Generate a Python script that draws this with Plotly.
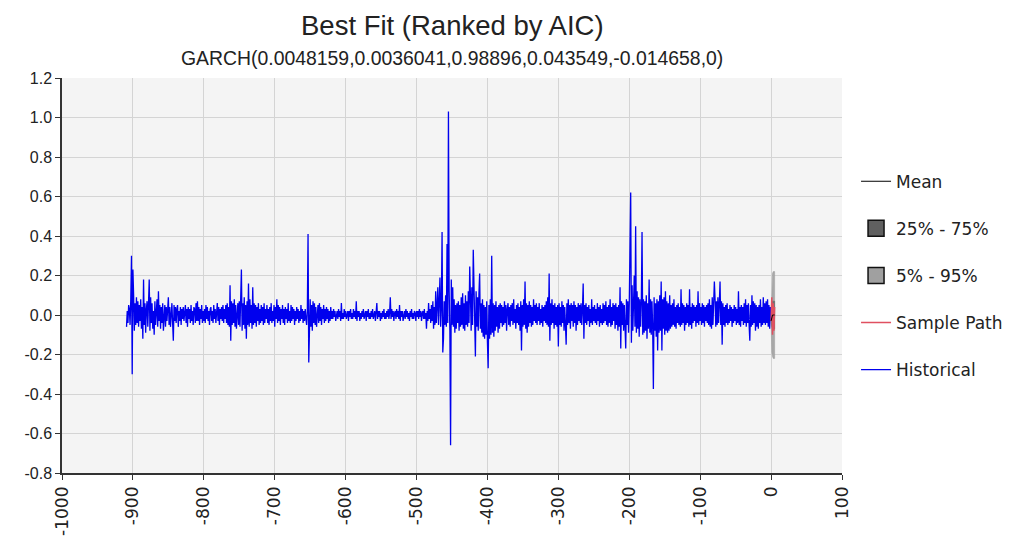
import plotly.graph_objects as go

TITLE = "Best Fit (Ranked by AIC)"
SUBTITLE = "GARCH(0.0048159,0.0036041,0.98896,0.043549,-0.014658,0)"

# Historical series, one value per period starting at HIST_START
HIST_START = -909
hist_values = [
    -0.06, 0.02, -0.04, 0.05, 0.03, -0.05, 0.08, 0.30, -0.30, 0.23,
    0.10, -0.08, 0.06, -0.05, 0.09, -0.04, 0.07, -0.06, 0.05, -0.03,
    0.08, -0.07, 0.04, -0.12, 0.18, -0.05, 0.06, -0.09, 0.03, 0.07,
    -0.06, 0.05, 0.18, -0.08, 0.09, -0.04, 0.06, -0.07, 0.02, -0.10,
    0.07, -0.05, 0.04, 0.08, -0.06, 0.12, -0.03, 0.05, -0.07, 0.04,
    -0.04, 0.06, -0.08, 0.03, 0.05, -0.06, 0.04, -0.03, 0.07, 0.09,
    -0.05, 0.04, -0.06, 0.03, 0.06, -0.04, -0.13, 0.05, -0.03, 0.04,
    -0.04, 0.03, 0.05, -0.06, 0.02, -0.03, 0.04, -0.05, 0.03, -0.02,
    0.04, -0.03, 0.02, 0.05, -0.04, 0.03, -0.06, 0.04, -0.02, 0.03,
    -0.04, 0.05, -0.03, 0.02, -0.05, 0.04, 0.03, -0.04, 0.06, -0.03,
    0.07, -0.03, 0.04, -0.05, 0.03, -0.02, 0.05, -0.04, 0.02, -0.03,
    0.03, -0.04, 0.05, -0.02, 0.04, -0.03, 0.02, -0.05, 0.03, 0.04,
    -0.03, 0.02, -0.04, 0.05, -0.02, 0.03, -0.04, 0.02, 0.06, -0.03,
    0.04, -0.05, 0.03, -0.02, 0.04, -0.03, 0.05, -0.04, 0.03, -0.02,
    0.05, -0.04, 0.06, -0.05, 0.04, -0.06, 0.15, -0.13, 0.07, -0.05,
    0.06, -0.04, 0.08, -0.06, 0.05, -0.07, 0.04, 0.06, -0.05, 0.07,
    -0.06, 0.05, 0.23, -0.08, 0.06, -0.05, 0.09, -0.07, 0.05, -0.12,
    0.07, -0.05, 0.16, -0.06, 0.08, -0.04, 0.05, -0.07, 0.14, -0.05,
    0.06, -0.04, 0.05, -0.06, 0.04, -0.03, 0.06, -0.05, 0.03, -0.04,
    0.05, -0.03, 0.04, -0.05, 0.06, -0.04, 0.03, -0.02, 0.05, -0.04,
    0.03, -0.05, 0.04, -0.03, 0.06, -0.04, 0.02, -0.03, 0.05, -0.06,
    0.04, -0.02, 0.08, -0.04, 0.05, -0.03, 0.04, -0.05, 0.03, -0.02,
    0.05, -0.04, 0.03, -0.05, 0.04, -0.02, 0.03, -0.04, 0.06, -0.03,
    0.02, -0.04, 0.05, -0.03, 0.04, -0.02, 0.03, -0.05, 0.02, -0.03,
    0.04, -0.02, 0.03, -0.04, 0.02, -0.03, 0.05, -0.02, 0.03, -0.04,
    0.02, -0.03, 0.03, -0.02, -0.05, 0.03, 0.41, -0.24, -0.10, 0.08,
    -0.06, 0.05, -0.08, 0.07, -0.04, 0.06, -0.05, 0.04, -0.06, 0.03,
    0.05, -0.04, 0.06, -0.03, 0.04, -0.05, 0.03, -0.02, 0.05, -0.04,
    0.03, -0.03, 0.04, -0.02, 0.03, -0.04, 0.02, -0.03, 0.04, -0.02,
    0.02, -0.02, 0.03, -0.01, 0.02, -0.03, 0.01, 0.02, -0.02, 0.03,
    -0.01, 0.02, -0.03, 0.06, -0.02, 0.01, -0.02, 0.03, -0.01, 0.02,
    -0.02, 0.01, 0.02, -0.03, 0.02, -0.01, 0.03, -0.02, 0.01, -0.02,
    0.03, -0.01, 0.02, -0.02, 0.07, -0.03, 0.02, -0.01, 0.02, -0.03,
    0.01, -0.02, 0.02, -0.01, 0.03, -0.02, 0.01, 0.02, -0.03, 0.02,
    -0.01, 0.03, -0.02, 0.01, -0.02, 0.02, -0.01, 0.03, -0.02, 0.01,
    0.02, -0.03, 0.01, 0.06, -0.02, 0.02, -0.01, 0.02, -0.03, 0.01,
    -0.02, 0.02, -0.01, 0.03, -0.02, 0.01, -0.02, 0.02, -0.01, 0.03,
    -0.02, 0.01, 0.09, -0.02, 0.03, -0.01, 0.02, -0.03, 0.01, 0.02,
    -0.02, 0.03, -0.01, 0.02, -0.02, 0.05, -0.03, 0.02, -0.01, 0.02,
    -0.03, 0.01, 0.02, -0.02, 0.03, -0.01, 0.02, -0.02, 0.01, -0.03,
    0.02, -0.01, 0.03, -0.02, 0.01, -0.02, 0.02, 0.01, -0.03, 0.02,
    -0.01, 0.02, -0.02, 0.03, -0.01, 0.02, -0.03, 0.01, 0.02, -0.02,
    0.03, -0.02, 0.01, -0.07, 0.02, -0.03, 0.06, -0.02, 0.03, -0.04,
    0.05, -0.03, 0.07, -0.07, 0.04, -0.05, 0.12, -0.04, 0.06, 0.14,
    -0.05, 0.08, 0.19, -0.06, 0.04, 0.42, -0.19, -0.12, 0.07, -0.05,
    0.10, -0.06, 0.36, -0.04, 1.03, 0.12, -0.08, -0.66, 0.18, -0.05,
    0.14, -0.06, 0.08, -0.09, 0.05, -0.07, 0.06, -0.04, 0.07, -0.08,
    0.05, -0.06, 0.09, -0.05, 0.11, -0.07, 0.06, -0.08, 0.10, -0.05,
    0.07, -0.06, 0.12, -0.04, 0.245, 0.10, -0.08, 0.14, -0.05, 0.33,
    0.15, -0.10, -0.21, 0.12, -0.06, 0.09, -0.08, 0.11, 0.21, -0.07,
    0.06, -0.09, 0.08, -0.11, 0.05, -0.12, 0.04, -0.10, 0.07, -0.14,
    -0.27, 0.05, -0.12, 0.08, -0.10, 0.30, -0.09, 0.06, -0.11, 0.05,
    -0.08, 0.07, -0.06, 0.04, -0.09, 0.05, -0.07, 0.06, -0.04, 0.05,
    -0.06, 0.04, -0.05, 0.07, -0.04, 0.05, -0.08, 0.03, 0.06, -0.05,
    0.04, -0.06, 0.05, -0.03, 0.06, -0.05, 0.08, -0.04, 0.03, -0.07,
    0.05, -0.04, 0.06, -0.05, 0.04, -0.08, 0.07, -0.18, 0.05, -0.06,
    0.08, -0.05, 0.17, -0.07, 0.06, -0.09, 0.05, -0.06, 0.07, -0.04,
    0.05, -0.06, 0.04, -0.05, 0.08, -0.03, 0.05, -0.04, 0.06, -0.05,
    0.04, -0.03, 0.06, -0.05, 0.03, -0.04, 0.05, -0.06, 0.04, -0.03,
    0.05, -0.04, 0.07, -0.05, 0.09, -0.06, 0.21, -0.13, 0.06, -0.05,
    0.08, -0.04, 0.05, -0.07, 0.06, -0.05, 0.04, -0.06, 0.05, -0.16,
    0.06, -0.05, 0.04, -0.06, 0.07, -0.04, 0.05, -0.08, 0.04, -0.05,
    -0.15, 0.06, -0.05, 0.08, -0.04, 0.05, -0.07, 0.06, -0.03, 0.05,
    -0.06, 0.07, -0.04, 0.05, -0.08, 0.04, -0.05, 0.06, -0.03, 0.05,
    -0.04, 0.06, -0.05, 0.03, 0.16, -0.12, 0.05, -0.04, 0.06, -0.05,
    0.04, -0.03, 0.05, -0.06, 0.03, -0.04, 0.08, -0.05, 0.04, -0.03,
    0.05, -0.04, 0.03, -0.05, 0.06, -0.03, 0.04, -0.06, 0.05, -0.04,
    0.03, -0.05, 0.06, -0.04, 0.05, -0.03, 0.07, -0.05, 0.04, -0.06,
    0.05, -0.04, 0.08, -0.06, 0.04, -0.05, 0.06, -0.03, 0.05, -0.07,
    0.06, -0.05, 0.04, -0.08, 0.05, -0.06, 0.14, -0.17, 0.07, -0.05,
    0.06, -0.08, 0.05, -0.06, -0.17, 0.08, -0.05, 0.07, -0.09, 0.06,
    0.37, 0.62, -0.14, 0.15, -0.08, 0.10, 0.20, -0.06, 0.45, -0.09,
    0.12, -0.07, 0.09, -0.11, 0.08, -0.06, 0.07, 0.42, -0.10, 0.08,
    -0.09, 0.07, -0.08, 0.10, -0.12, 0.06, -0.07, 0.18, -0.09, 0.08,
    -0.10, 0.07, -0.06, -0.375, 0.09, -0.08, 0.06, -0.11, 0.08, -0.18,
    0.07, -0.09, 0.10, -0.08, 0.17, -0.18, 0.08, -0.07, 0.09, -0.10,
    0.12, -0.08, 0.07, -0.09, 0.06, -0.08, 0.10, -0.07, 0.05, -0.06,
    0.06, -0.05, 0.08, -0.06, 0.04, -0.07, 0.05, -0.04, 0.06, -0.05,
    0.04, -0.06, 0.13, -0.05, 0.06, -0.04, 0.05, -0.08, 0.04, -0.05,
    0.06, -0.04, 0.05, -0.06, 0.13, -0.05, 0.04, -0.07, 0.06, -0.04,
    0.05, -0.03, 0.04, -0.06, 0.05, -0.04, 0.12, -0.05, 0.06, -0.03,
    0.04, -0.05, 0.06, -0.04, 0.05, -0.06, 0.04, -0.03, 0.05, -0.04,
    0.06, -0.05, 0.08, -0.06, 0.05, -0.07, 0.09, -0.05, 0.06, 0.17,
    0.08, -0.06, 0.07, -0.05, 0.09, -0.04, 0.06, 0.17, -0.05, 0.07,
    -0.15, 0.06, -0.05, 0.04, -0.06, 0.05, -0.04, 0.06, -0.05, 0.03,
    -0.04, 0.05, -0.03, 0.04, -0.06, 0.03, -0.04, 0.05, -0.03, 0.04,
    -0.05, 0.03, -0.04, 0.12, -0.05, 0.04, -0.06, 0.05, -0.03, 0.04,
    -0.05, 0.06, -0.04, 0.08, -0.06, 0.05, -0.04, 0.06, -0.05, -0.13,
    0.05, -0.06, 0.10, -0.05, 0.07, -0.04, 0.06, -0.08, 0.05, -0.06,
    0.04, -0.07, 0.05, -0.04, 0.08, -0.06, 0.04, -0.05, 0.09, -0.04,
    0.06, -0.05, 0.07, -0.04, 0.08, -0.06, 0.05, -0.07, 0.04, -0.03,
]
hist_x = list(range(HIST_START, HIST_START + len(hist_values)))

# Forecast fan
fc_x = [0, 1, 2, 3, 4, 5]
fc_p95 = [-0.03, 0.19, 0.21, 0.22, 0.22, 0.22]
fc_p5 = [-0.03, -0.19, -0.21, -0.22, -0.22, -0.22]
fc_p75 = [-0.03, 0.06, 0.07, 0.07, 0.07, 0.07]
fc_p25 = [-0.03, -0.06, -0.07, -0.07, -0.07, -0.07]
fc_mean = [-0.03, 0.0, 0.0, 0.0, 0.0, 0.0]
sample_path = [-0.03, 0.09, -0.10, 0.06, -0.08, 0.04]

# Axes
X_RANGE = [-1000, 100]
Y_RANGE = [-0.8, 1.2]
x_tick_vals = [-1000, -900, -800, -700, -600, -500, -400, -300, -200, -100, 0, 100]
x_tick_text = ["-1000", "-900", "-800", "-700", "-600", "-500", "-400",
               "-300", "-200", "-100", "0", "100"]
y_tick_vals = [-0.8, -0.6, -0.4, -0.2, 0.0, 0.2, 0.4, 0.6, 0.8, 1.0, 1.2]
y_tick_text = ["-0.8", "-0.6", "-0.4", "-0.2", "0.0", "0.2", "0.4", "0.6",
               "0.8", "1.0", "1.2"]

# page body has an 8px margin; size figure so the plot sits where the reference has it
PAGE_OFFSET = 8
W, H = 1011 - PAGE_OFFSET, 537 - PAGE_OFFSET

fig = go.Figure()

fig.add_trace(go.Scatter(
    x=fc_x + fc_x[::-1], y=fc_p95 + fc_p5[::-1], fill="toself",
    fillcolor="#a8a8a8", line=dict(color="#9a9a9a", width=0.5),
    mode="lines", showlegend=False, hoverinfo="skip"))
fig.add_trace(go.Scatter(
    x=fc_x + fc_x[::-1], y=fc_p75 + fc_p25[::-1], fill="toself",
    fillcolor="#707070", line=dict(color="#606060", width=0.5),
    mode="lines", showlegend=False, hoverinfo="skip"))
fig.add_trace(go.Scatter(
    x=hist_x, y=hist_values, mode="lines", name="Historical",
    line=dict(color="#0000ee", width=1.3), legendgroup="g5", legendrank=5))
fig.add_trace(go.Scatter(
    x=fc_x, y=sample_path, mode="lines", name="Sample Path",
    line=dict(color="#e05060", width=1.5), legendgroup="g4", legendrank=4))
fig.add_trace(go.Scatter(
    x=fc_x, y=fc_mean, mode="lines", name="Mean",
    line=dict(color="#000000", width=1), legendgroup="g1", legendrank=1))
# legend swatches for the bands
fig.add_trace(go.Scatter(
    x=[None], y=[None], mode="markers", name="25% - 75%",
    marker=dict(symbol="square", size=20, color="#606060",
                line=dict(color="#111", width=1.5)),
    legendgroup="g2", legendrank=2))
fig.add_trace(go.Scatter(
    x=[None], y=[None], mode="markers", name="5% - 95%",
    marker=dict(symbol="square", size=20, color="#a0a0a0",
                line=dict(color="#111", width=1.5)),
    legendgroup="g3", legendrank=3))

fig.update_layout(
    width=W, height=H,
    margin=dict(l=62 - PAGE_OFFSET, r=169, t=78 - PAGE_OFFSET, b=64, autoexpand=False),
    paper_bgcolor="white",
    plot_bgcolor="#f4f4f4",
    showlegend=True,
    legend=dict(
        x=1.018, xanchor="left", y=0.783, yanchor="top",
        font=dict(family="DejaVu Sans", size=17, color="#222"),
        tracegroupgap=22, bgcolor="rgba(0,0,0,0)",
        itemwidth=30,
    ),
    font=dict(family="Liberation Sans, Arial, sans-serif", color="#222"),
    annotations=[
        dict(text=TITLE, xref="paper", yref="paper", x=0.5, y=1,
             yshift=53, showarrow=False, xanchor="center", yanchor="middle",
             font=dict(size=27.5, color="#222", family="Liberation Sans, Arial, sans-serif")),
        dict(text=SUBTITLE, xref="paper", yref="paper", x=0.5, y=1,
             yshift=20, showarrow=False, xanchor="center", yanchor="middle",
             font=dict(size=19.4, color="#222", family="Liberation Sans, Arial, sans-serif")),
    ],
)

fig.update_xaxes(
    range=X_RANGE, tickmode="array", tickvals=x_tick_vals, ticktext=x_tick_text,
    tickangle=-90, automargin=False,
    showgrid=True, gridcolor="#d4d4d4", gridwidth=1,
    showline=True, linecolor="#333", linewidth=1.5,
    ticks="outside", ticklen=5, tickcolor="#333",
    tickfont=dict(size=17, family="DejaVu Sans, sans-serif", color="#222"),
    zeroline=False,
)
fig.update_yaxes(
    range=Y_RANGE, tickmode="array", tickvals=y_tick_vals, ticktext=y_tick_text,
    automargin=False,
    showgrid=True, gridcolor="#d4d4d4", gridwidth=1,
    showline=True, linecolor="#333", linewidth=1.5,
    ticks="outside", ticklen=5, tickcolor="#333",
    tickfont=dict(size=16, family="Liberation Sans, Arial, sans-serif", color="#222"),
    zeroline=False,
)

fig.write_html("out.html")
